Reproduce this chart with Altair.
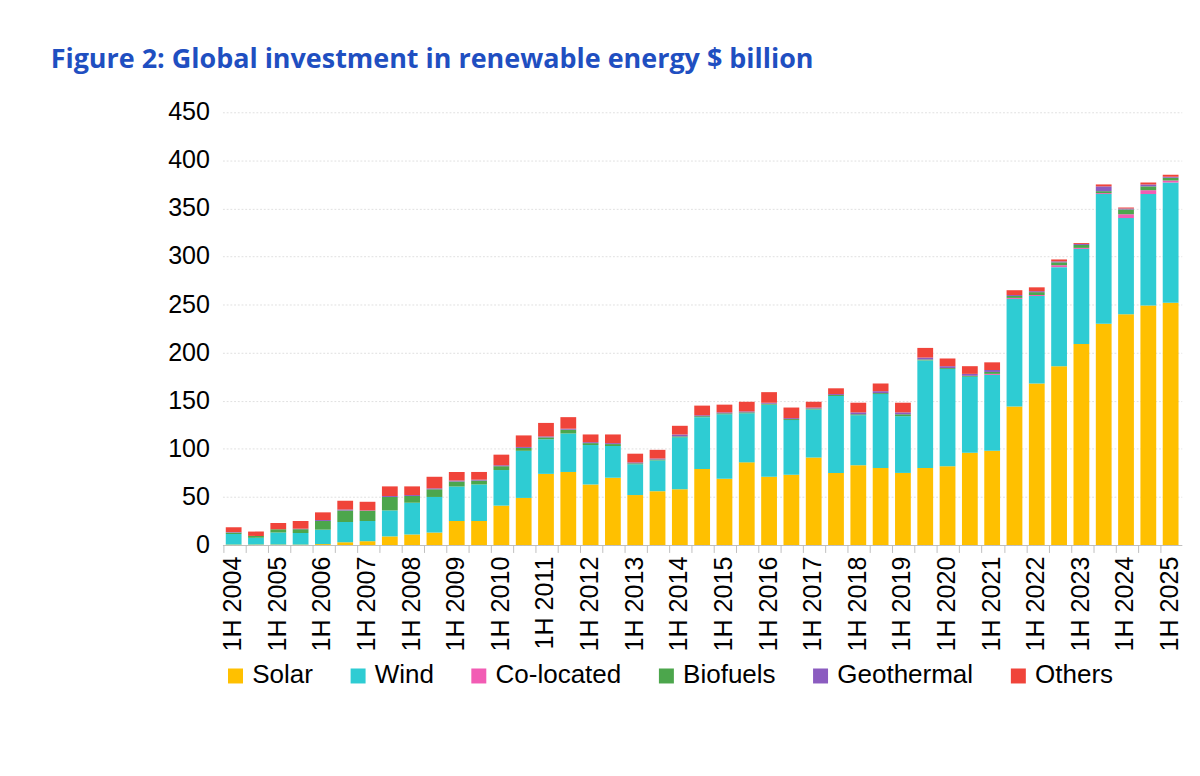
import pandas as pd
import altair as alt

years = list(range(2004, 2026))
periods = []
for y in years:
    periods.append("1H " + str(y))
    if y < 2025:
        periods.append("2H " + str(y))

solar = [0.5, 0.5, 0.5, 0.5, 1, 3, 4, 9, 11, 13, 25, 25, 41, 49, 74, 76, 63, 70, 52, 56,
         58, 79, 69, 86, 71, 73, 91, 75, 83, 80, 75, 80, 82, 96, 98, 144, 168, 186, 209, 230,
         240, 249, 252]
wind = [11, 7, 12.5, 12, 15, 21, 21, 27, 33, 37, 36, 38, 37, 49, 36, 40, 41, 33, 32, 32,
        54, 54, 67, 51, 75, 57, 50, 80, 52, 77, 59, 112, 101, 79, 79, 112, 91, 103, 99, 135,
        100, 116, 125]
colocated = [0] * 34 + [1, 1, 1, 2, 1, 1, 4, 4, 2]
biofuels = [1.5, 2, 3.5, 4, 9, 12, 10.5, 14, 7, 8, 5, 4, 4, 3, 2, 4, 2, 2, 1, 1,
            1, 1, 1, 1, 1, 1, 1, 1, 1, 1, 2, 1, 1, 1, 2, 2, 3, 3, 3, 2,
            5, 4, 3]
geothermal = [0.5, 0, 0, 0.5, 1, 1, 0.5, 1, 1, 1, 1, 1, 1, 1, 1, 1, 1, 1, 1, 1,
              2, 1, 1, 1, 1, 1, 1, 1, 2, 2, 2, 2, 2, 2, 2, 1, 1, 1, 1, 5,
              1, 2, 1]
others = [5, 4.5, 6.5, 8, 8, 9, 9, 10, 9, 12, 9, 8, 11, 12, 14, 12, 8, 9, 9, 9,
          9, 10, 8, 10, 11, 11, 6, 6, 10, 8, 10, 10, 8, 8, 8, 5, 4, 2, 1, 2,
          1, 2, 2]

series = ["Solar", "Wind", "Co-located", "Biofuels", "Geothermal", "Others"]
colors = ["#FFC000", "#2ECCD3", "#F25CB4", "#4CA64C", "#8B5CC0", "#F0443A"]
values = [solar, wind, colocated, biofuels, geothermal, others]

rows = []
for s_i, (name, vals) in enumerate(zip(series, values)):
    for p, v in zip(periods, vals):
        rows.append({"period": p, "series": name, "value": v, "order": s_i})
df = pd.DataFrame(rows)

chart = alt.Chart(df).mark_bar(size=17).encode(
    x=alt.X("period:N", sort=periods, title=None,
            axis=alt.Axis(labelAngle=-90, labelFontSize=27, labelFont="Liberation Sans",
                          labelColor="#000", labelExpr="substring(datum.value, 0, 2) == '1H' ? datum.value : ''",
                          bandPosition=0, tickSize=8, tickColor="#bbb", domainColor="#bbb",
                          labelPadding=4, labelAlign="right", labelBaseline="middle")),
    y=alt.Y("value:Q", title=None, scale=alt.Scale(domain=[0, 450]),
            axis=alt.Axis(values=list(range(0, 451, 50)), labelFontSize=27, labelFont="Liberation Sans",
                          labelColor="#000", domain=False, ticks=False, gridColor="#ddd",
                          gridDash=[2, 2], labelPadding=14)),
    color=alt.Color("series:N", sort=series, scale=alt.Scale(domain=series, range=colors),
                    legend=alt.Legend(orient="bottom", title=None, symbolType="square", symbolSize=260,
                                      labelFontSize=28, labelFont="Liberation Sans", labelColor="#000",
                                      columnPadding=34, symbolStrokeWidth=0, offset=12)),
    order=alt.Order("order:Q", sort="ascending"),
).properties(
    width=1033, height=466,
    padding={"left": 45, "top": 14, "right": 10, "bottom": 5},
    title=alt.TitleParams("Figure 2: Global investment in renewable energy $ billion", fontSize=29,
                          font="Open Sans", fontWeight="bold", color="#1F4FC1", anchor="start",
                          dx=-126, offset=28),
).configure_view(stroke=None)

chart.save("out.html", embed_options={"renderer": "svg", "actions": False})
